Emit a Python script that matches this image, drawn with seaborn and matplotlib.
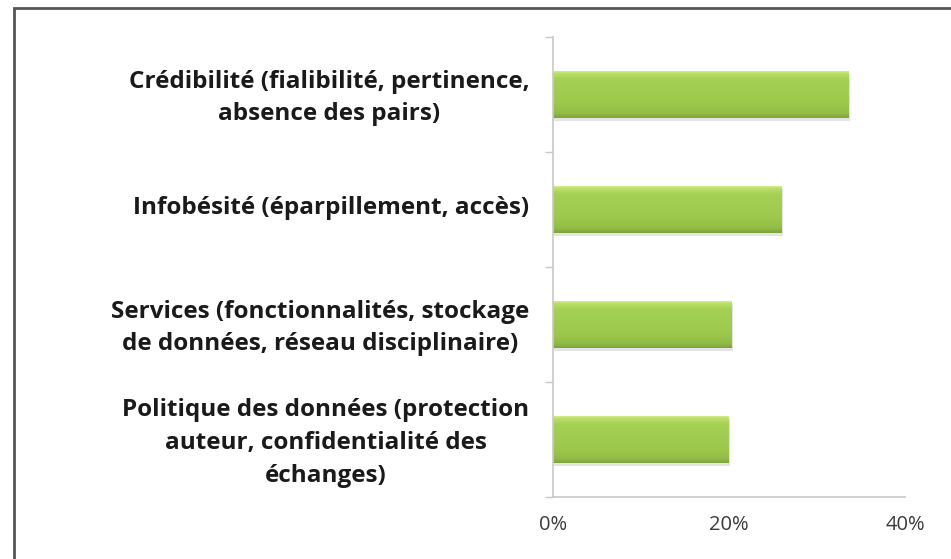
import numpy as np
import pandas as pd
import seaborn as sns
import matplotlib.pyplot as plt
import matplotlib.transforms as mtransforms
from matplotlib.patches import Rectangle
from matplotlib.colors import LinearSegmentedColormap
from matplotlib.ticker import FuncFormatter, FixedLocator

categories = [
    "Crédibilité (fialibilité, pertinence,\nabsence des pairs)",
    "Infobésité (éparpillement, accès)",
    "Services (fonctionnalités, stockage\nde données, réseau disciplinaire)",
    "Politique des données (protection\nauteur, confidentialité des\néchanges)",
]
values = [33.6, 26.0, 20.3, 20.0]
x_ticks = [0, 20, 40]

df = pd.DataFrame({"categorie": categories, "pourcentage": values})

sns.set_theme(style="white")
plt.rcParams["font.family"] = ["Open Sans", "DejaVu Sans"]

W, H = 951, 559
fig = plt.figure(figsize=(W / 100, H / 100), dpi=100)
ax = fig.add_axes([553 / W, 1 - 497 / H, (905 - 553) / W, (497 - 37) / H])

sns.barplot(data=df, x="pourcentage", y="categorie", orient="h",
            color="#9cc94b", width=0.41, ax=ax, edgecolor="none")

# vertical gradient fill on each bar
grad = LinearSegmentedColormap.from_list("greenbar", [
    (0.0, "#dcf096"), (0.07, "#b8de66"), (0.2, "#a4d053"),
    (0.7, "#9cc84b"), (0.9, "#93be46"), (1.0, "#80a33d")])
g = np.linspace(0, 1, 96).reshape(-1, 1)
for p in ax.patches:
    x0, y0 = p.get_x(), p.get_y()
    w, h = p.get_width(), p.get_height()
    # soft drop shadow
    ax.add_patch(Rectangle((x0 + 0.12, y0 + 0.025), w, h, facecolor="#a8a8a8",
                           alpha=0.3, edgecolor="none", zorder=1.5))
    im = ax.imshow(g, extent=(x0, x0 + w, y0 + h, y0), aspect="auto",
                   cmap=grad, zorder=2.5, interpolation="bicubic")
    im.set_clip_path(p)
    p.set_zorder(2)

ax.set_xlim(0, 40)
ax.set_ylim(3.5, -0.5)
ax.set_xlabel("")
ax.set_ylabel("")

ax.xaxis.set_major_locator(FixedLocator(x_ticks))
ax.xaxis.set_major_formatter(FuncFormatter(lambda v, _: f"{v:.0f}%"))
ax.tick_params(axis="x", which="major", direction="out", length=6, width=1,
               color="#c8c8c8", labelsize=14.5, labelcolor="#3a3a3a", pad=7)

# category separators as ticks, labels centred on bars
ax.yaxis.set_major_locator(FixedLocator([-0.5, 0.5, 1.5, 2.5, 3.5]))
ax.yaxis.set_major_formatter(FuncFormatter(lambda v, _: ""))
ax.yaxis.set_minor_locator(FixedLocator(list(range(len(categories)))))
ax.set_yticklabels(categories, minor=True)
ax.tick_params(axis="y", which="major", direction="out", length=6, width=1,
               color="#c8c8c8", left=True)
ax.tick_params(axis="y", which="minor", length=0, pad=17, labelsize=17.5,
               labelcolor="#1a1a1a")
lift = mtransforms.ScaledTranslation(0, 4 / 100, fig.dpi_scale_trans)
for t in ax.get_yticklabels(minor=True):
    t.set_fontweight("bold")
    t.set_multialignment("center")
    t.set_linespacing(1.5)
    t.set_transform(t.get_transform() + lift)

for side in ["top", "right"]:
    ax.spines[side].set_visible(False)
for side in ["left", "bottom"]:
    ax.spines[side].set_color("#c8c8c8")
    ax.spines[side].set_linewidth(1.2)

# chart area frame
fig.patches.append(Rectangle((14 / W, -0.1), 1.2, 1 - 8 / H + 0.1,
                             transform=fig.transFigure, fill=False,
                             edgecolor="#555555", linewidth=2.0))

fig.savefig("out.png", dpi=100)
